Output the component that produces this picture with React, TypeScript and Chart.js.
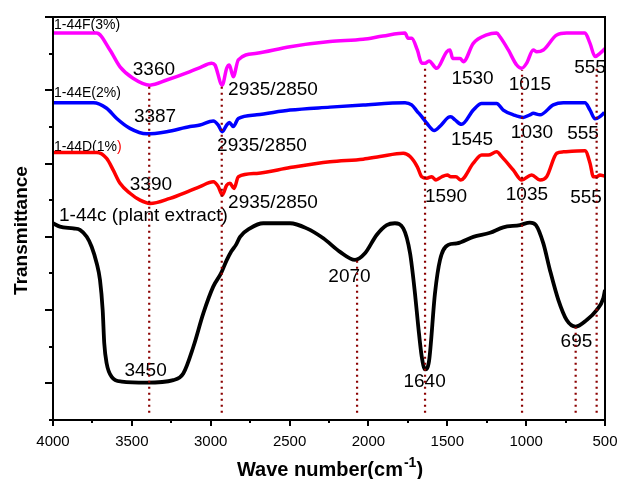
import React, { useEffect, useRef } from "react";
import { Chart, registerables } from "chart.js";

Chart.register(...registerables);

const FONT = '"Liberation Sans", Arial, Helvetica, sans-serif';

// ---- data (wavenumber cm-1, transmittance a.u.) ----
const wnF = [4000, 3723, 3639, 3575, 3493, 3385, 3279, 3131, 3068, 2994, 2973, 2927, 2899, 2882, 2857, 2825, 2708, 2497, 2244, 2034, 1908, 1768, 1749, 1726, 1690, 1662, 1641, 1616, 1567, 1504, 1483, 1466, 1419, 1398, 1335, 1250, 1187, 1166, 1113, 1060, 1028, 997, 955, 933, 891, 806, 743, 627, 595, 563, 532, 500];
const tF = [105.6, 105.6, 101.0, 96.4, 93.3, 91.4, 92.8, 95.1, 96.2, 97.4, 96.9, 91.4, 96.0, 96.9, 93.7, 98.3, 100.1, 101.9, 103.3, 103.9, 104.8, 105.6, 104.2, 104.2, 101.0, 97.4, 97.4, 98.0, 96.0, 100.5, 101.0, 98.7, 98.7, 97.8, 102.8, 105.1, 105.6, 104.6, 101.0, 96.9, 96.0, 97.4, 101.0, 100.5, 101.0, 105.1, 105.6, 105.6, 102.8, 99.2, 100.1, 101.4];

const wnE = [4000, 3744, 3660, 3596, 3512, 3406, 3279, 3131, 3068, 2984, 2952, 2927, 2899, 2882, 2857, 2825, 2708, 2497, 2244, 2033, 1768, 1726, 1690, 1662, 1630, 1582, 1546, 1494, 1478, 1451, 1409, 1335, 1282, 1187, 1145, 1081, 1018, 976, 955, 912, 828, 764, 627, 595, 563, 532, 504];
const tE = [86.6, 86.6, 85.1, 82.3, 79.6, 78.1, 78.7, 80.1, 80.5, 81.6, 80.5, 78.7, 80.5, 81.2, 80.1, 82.3, 83.3, 84.6, 85.4, 86.0, 86.6, 86.0, 84.2, 82.8, 81.0, 79.0, 80.2, 82.6, 82.8, 81.9, 80.7, 84.6, 86.4, 86.4, 84.6, 83.3, 82.6, 83.3, 83.7, 83.3, 86.0, 86.6, 86.6, 84.6, 82.2, 82.8, 83.9];

const wnD = [4000, 3723, 3660, 3618, 3575, 3512, 3448, 3385, 3258, 3131, 3068, 2984, 2952, 2927, 2899, 2878, 2852, 2825, 2708, 2497, 2244, 2033, 1927, 1779, 1736, 1690, 1662, 1630, 1599, 1572, 1535, 1500, 1478, 1445, 1415, 1335, 1282, 1240, 1187, 1155, 1081, 1028, 965, 912, 870, 806, 764, 627, 595, 574, 553, 532, 504];
const tD = [73.0, 73.0, 71.4, 68.2, 64.6, 61.9, 60.0, 59.1, 60.5, 62.6, 63.7, 65.0, 63.7, 61.4, 64.1, 64.6, 63.2, 66.4, 67.3, 68.9, 70.5, 71.2, 71.9, 72.8, 71.9, 69.1, 66.4, 66.0, 66.4, 65.5, 66.4, 66.9, 66.4, 66.4, 65.5, 70.1, 72.3, 72.3, 73.2, 71.9, 68.2, 65.5, 66.9, 65.5, 66.4, 72.8, 73.2, 73.5, 70.1, 66.4, 66.4, 66.9, 66.6];

const wnC = [4000, 3956, 3871, 3829, 3786, 3755, 3723, 3702, 3685, 3675, 3660, 3628, 3564, 3406, 3237, 3174, 3110, 3047, 2984, 2935, 2900, 2870, 2840, 2814, 2751, 2667, 2497, 2391, 2286, 2180, 2085, 2022, 1948, 1884, 1832, 1779, 1736, 1705, 1684, 1662, 1641, 1616, 1578, 1546, 1494, 1440, 1335, 1229, 1145, 1039, 976, 938, 891, 849, 796, 743, 686, 616, 553, 511, 500];
const tC = [53.7, 52.8, 52.3, 51.9, 50.0, 47.3, 42.8, 38.2, 30.0, 20.9, 15.5, 11.8, 10.5, 10.2, 10.9, 12.7, 20.0, 29.1, 36.4, 40.0, 43.5, 46.0, 47.8, 50.0, 52.3, 53.7, 53.7, 52.3, 49.6, 45.9, 43.7, 45.5, 50.5, 53.2, 53.7, 52.3, 45.5, 34.6, 25.5, 17.3, 13.8, 16.0, 34.6, 43.7, 47.8, 48.2, 50.0, 51.1, 52.6, 53.2, 53.9, 53.2, 48.2, 40.9, 32.8, 27.3, 25.5, 27.3, 30.0, 33.2, 35.5];

// peak guide lines (dotted)
const peakWn = [3390, 2930, 2072, 1641, 1026, 686, 553];
const peakTop = [91.4, 91.4, 43.7, 96.4, 95.5, 25.4, 96.4];
const peakBottom = 2;

// peak annotations
const labelText = ["3360", "3387", "3390", "2935/2850", "2935/2850", "2935/2850", "1530", "1015", "555", "1545", "1030", "555", "1590", "1035", "555", "3450", "2070", "1640", "695"];
const labelWn = [3360, 3353, 3379, 2605, 2675, 2605, 1340, 976, 595, 1343, 963, 639, 1508, 995, 620, 3413, 2120, 1644, 681];
const labelT = [95.7, 82.7, 64.1, 90.2, 74.8, 59.2, 93.1, 91.6, 96.1, 76.6, 78.3, 78.1, 61.0, 61.6, 60.6, 13.5, 39.2, 10.5, 21.4];

// series names
const seriesNames = ["1-44F(3%)", "1-44E(2%)", "1-44D(1%", "1-44c (plant extract)"];
const seriesNameWn = [3994, 3994, 3994, 3962];
const seriesNameT = [107.7, 89.3, 74.5, 55.7];

const xMin = 500;
const xMax = 4000;
const xStep = 500;
const yMin = 0;
const yMax = 110;

const toPts = (xs: number[], ys: number[]) => xs.map((x, i) => ({ x, y: ys[i] }));

const decorPlugin = {
  id: "decor",
  beforeDatasetsDraw(chart: any) {
    const ctx = chart.ctx;
    const xs = chart.scales.x;
    const ys = chart.scales.y;
    ctx.save();
    ctx.fillStyle = "#000";
    ctx.textBaseline = "middle";
    ctx.font = `19px ${FONT}`;
    ctx.textAlign = "center";
    labelText.forEach((t, i) => {
      ctx.fillText(t, xs.getPixelForValue(labelWn[i]), ys.getPixelForValue(labelT[i]));
    });
    ctx.textAlign = "left";
    seriesNames.forEach((t, i) => {
      ctx.font = i === 3 ? `19px ${FONT}` : `14px ${FONT}`;
      const px = xs.getPixelForValue(seriesNameWn[i]);
      const py = ys.getPixelForValue(seriesNameT[i]);
      ctx.fillStyle = "#000";
      ctx.fillText(t, px, py);
      if (i === 2) {
        const w = ctx.measureText(t).width;
        ctx.fillStyle = "#ff0000";
        ctx.fillText(")", px + w, py);
      }
    });
    ctx.restore();
  },
  afterDraw(chart: any) {
    const ctx = chart.ctx;
    const a = chart.chartArea;
    const xs = chart.scales.x;
    const ys = chart.scales.y;
    ctx.save();
    ctx.strokeStyle = "#000";
    ctx.lineWidth = 2;
    ctx.strokeRect(a.left, a.top, a.right - a.left, a.bottom - a.top);
    ctx.beginPath();
    for (let v = yMin; v <= yMax; v += 10) {
      const py = Math.round(ys.getPixelForValue(v));
      const len = (v / 10) % 2 === 1 ? 8 : 4;
      ctx.moveTo(a.left, py);
      ctx.lineTo(a.left - len, py);
    }
    for (let v = xMin; v <= xMax; v += xStep / 2) {
      const px = Math.round(xs.getPixelForValue(v));
      const len = v % xStep === 0 ? 6 : 3;
      ctx.moveTo(px, a.bottom);
      ctx.lineTo(px, a.bottom + len);
    }
    ctx.stroke();

    // y title
    ctx.fillStyle = "#000";
    ctx.save();
    ctx.translate(22, (a.top + a.bottom) / 2 + 12);
    ctx.rotate(-Math.PI / 2);
    ctx.font = `bold 19px ${FONT}`;
    ctx.textAlign = "center";
    ctx.textBaseline = "middle";
    ctx.fillText("Transmittance", 0, 0);
    ctx.restore();

    // x title with superscript
    const main = "Wave number(cm";
    const sup = "-1";
    const end = ")";
    ctx.textBaseline = "alphabetic";
    ctx.textAlign = "left";
    ctx.font = `bold 20px ${FONT}`;
    const w1 = ctx.measureText(main).width;
    const w3 = ctx.measureText(end).width;
    ctx.font = `bold 14px ${FONT}`;
    const w2 = ctx.measureText(sup).width;
    const total = w1 + w2 + w3 + 1;
    const x0 = 330 - total / 2;
    const base = 476;
    ctx.font = `bold 20px ${FONT}`;
    ctx.fillText(main, x0, base);
    ctx.font = `bold 14px ${FONT}`;
    ctx.fillText(sup, x0 + w1 + 1, base - 9);
    ctx.font = `bold 20px ${FONT}`;
    ctx.fillText(end, x0 + w1 + w2 + 1, base);
    ctx.restore();
  },
};

export default function App() {
  const ref = useRef<HTMLCanvasElement | null>(null);
  useEffect(() => {
    if (!ref.current) return;
    const curve = (data: any, color: string, w: number) => ({
      data,
      borderColor: color,
      backgroundColor: color,
      borderWidth: w,
      pointRadius: 0,
      cubicInterpolationMode: "monotone" as const,
      fill: false,
      order: 2,
    });
    const guides = peakWn.map((wn, i) => ({
      data: [
        { x: wn, y: peakBottom },
        { x: wn, y: peakTop[i] },
      ],
      borderColor: "#8b0000",
      borderWidth: 2.2,
      borderDash: [2, 4],
      pointRadius: 0,
      fill: false,
      order: 1,
    }));
    const chart = new Chart(ref.current, {
      type: "line",
      data: {
        datasets: [
          curve(toPts(wnF, tF), "#ff00ff", 3.5),
          curve(toPts(wnE, tE), "#0000ff", 3.5),
          curve(toPts(wnD, tD), "#ff0000", 3.5),
          curve(toPts(wnC, tC), "#000000", 3.8),
          ...guides,
        ] as any,
      },
      options: {
        animation: false,
        responsive: true,
        maintainAspectRatio: false,
        layout: { padding: { top: 17, right: 13, left: 0, bottom: 0 } },
        plugins: { legend: { display: false }, tooltip: { enabled: false } },
        scales: {
          x: {
            type: "linear",
            min: xMin,
            max: xMax,
            reverse: true,
            grid: { display: false },
            border: { display: false },
            ticks: {
              stepSize: xStep,
              color: "#000",
              font: { family: FONT, size: 15 },
              padding: 5,
              maxRotation: 0,
              autoSkip: false,
              callback: (v: any) => String(v),
            },
            afterFit: (s: any) => {
              s.height = 59;
              s.paddingLeft = 0;
              s.paddingRight = 0;
            },
          },
          y: {
            type: "linear",
            min: yMin,
            max: yMax,
            grid: { display: false },
            border: { display: false },
            ticks: { display: false },
            afterFit: (s: any) => {
              s.width = 53;
              s.paddingTop = 0;
              s.paddingBottom = 0;
            },
          },
        },
      } as any,
      plugins: [decorPlugin],
    });
    return () => chart.destroy();
  }, []);
  return (
    <div style={{ position: "absolute", left: 0, top: 0, width: 618, height: 479, background: "#fff" }}>
      <canvas ref={ref} />
    </div>
  );
}
